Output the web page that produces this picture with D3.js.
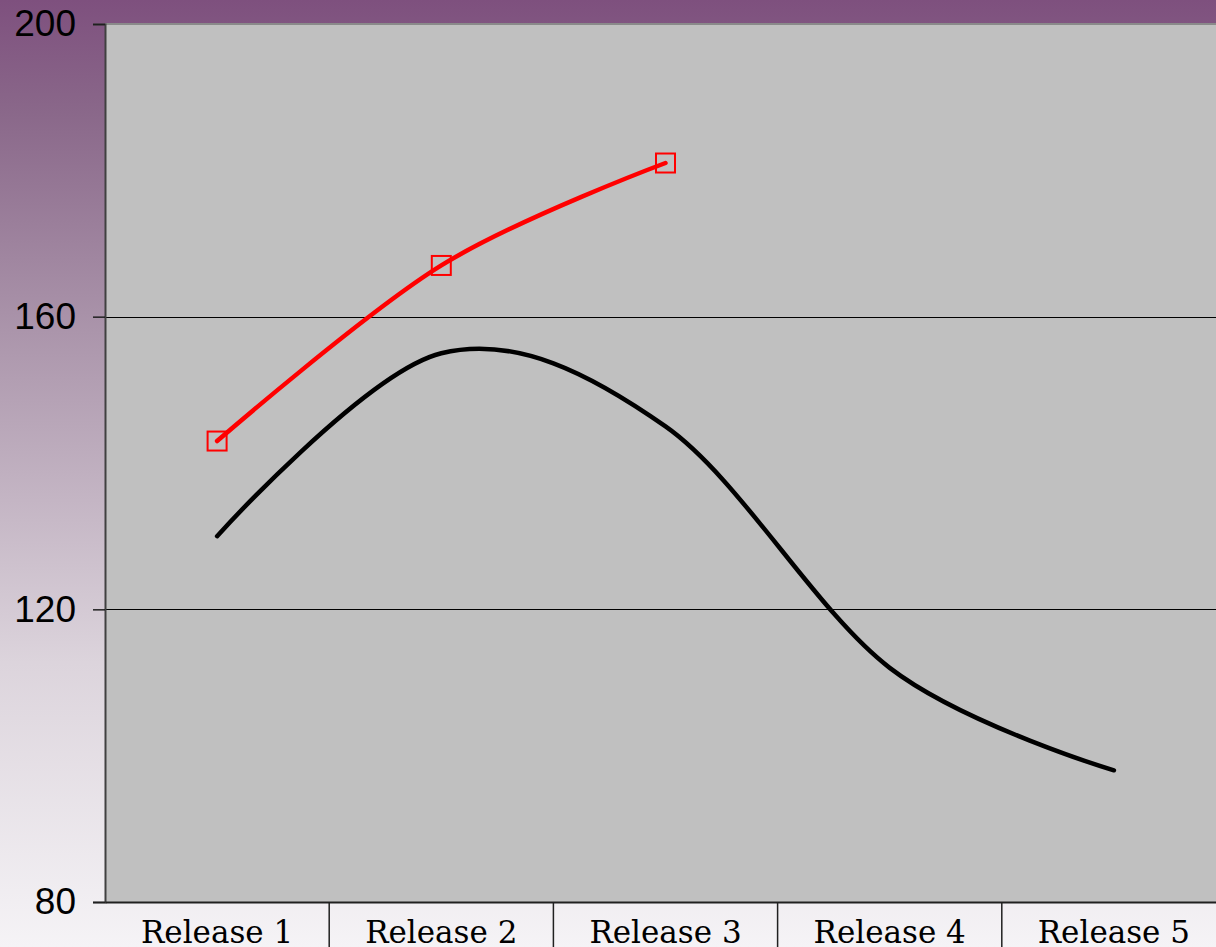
<!DOCTYPE html>
<html>
<head>
<meta charset="utf-8">
<script src="https://cdn.jsdelivr.net/npm/d3@7"></script>
<style>
  html, body { margin: 0; padding: 0; background: #ffffff; }
  svg { display: block; }
</style>
</head>
<body>
<svg id="chart" width="1216" height="947"></svg>
<script>
// Release categories along the x axis
const categories = ["Release 1", "Release 2", "Release 3", "Release 4", "Release 5"];
// Red series: only the first three releases have values
const redValues = [143, 167, 181];
// Black series: all five releases
const blackValues = [130, 155, 145, 112, 98];
// Value axis ticks
const yTicks = [80, 120, 160, 200];
const gridValues = [120, 160];

const W = 1216, H = 947;
const plot = { left: 105, top: 24, bottom: 902, catWidth: 224.2 };

const svg = d3.select("#chart");

// Page background: purple fading to near white
const defs = svg.append("defs");
const grad = defs.append("linearGradient")
  .attr("id", "bg").attr("x1", 0).attr("y1", 0).attr("x2", 0).attr("y2", 1);
[[0, "#7e507e"], [0.12, "#8a688a"], [0.35, "#ab95ab"], [0.7, "#dcd4dc"], [1, "#f5f3f6"]]
  .forEach(([o, c]) => grad.append("stop").attr("offset", o).attr("stop-color", c));
svg.append("rect").attr("width", W).attr("height", H).attr("fill", "url(#bg)");

const x = d3.scaleBand()
  .domain(categories)
  .range([plot.left, plot.left + plot.catWidth * categories.length])
  .padding(0);
const y = d3.scaleLinear().domain([80, 200]).range([plot.bottom, plot.top]);
const cx = d => x(d) + x.bandwidth() / 2;

// Plot area
svg.append("rect")
  .attr("x", plot.left).attr("y", y(200))
  .attr("width", x.range()[1] - plot.left)
  .attr("height", y(80) - y(200))
  .attr("fill", "#c0c0c0");

// Top border of plot area
svg.append("line")
  .attr("x1", plot.left).attr("x2", W)
  .attr("y1", y(200)).attr("y2", y(200))
  .attr("stroke", "#8a8a8a").attr("stroke-width", 2);

// Horizontal gridlines, snapped to whole pixels
svg.append("g").selectAll("line").data(gridValues).join("line")
  .attr("x1", plot.left).attr("x2", W)
  .attr("y1", d => Math.round(y(d)) + 0.5).attr("y2", d => Math.round(y(d)) + 0.5)
  .attr("stroke", "#000").attr("stroke-width", 1)
  .attr("shape-rendering", "crispEdges");

// Value axis
const yAxis = d3.axisLeft(y).tickValues(yTicks).tickSize(12).tickPadding(17).tickFormat(d3.format("d"));
const gy = svg.append("g").attr("transform", `translate(${plot.left},0)`).call(yAxis);
gy.select(".domain").attr("stroke", "#404040").attr("stroke-width", 2);
gy.selectAll(".tick line").attr("stroke", "#202020").attr("stroke-width", 1.5);
gy.selectAll(".tick text")
  .attr("font-family", "'Liberation Sans', Arial, sans-serif")
  .attr("font-size", 37).attr("fill", "#000");

// Category axis with separators between releases
const xAxis = d3.axisBottom(x).tickSize(0).tickPadding(0);
const gx = svg.append("g").attr("transform", `translate(0,${plot.bottom})`).call(xAxis);
gx.select(".domain").attr("stroke", "#202020").attr("stroke-width", 2);
gx.selectAll(".tick text")
  .attr("font-family", "'DejaVu Serif', serif")
  .attr("font-size", 31).attr("fill", "#000")
  .attr("dy", 0).attr("y", 41);
gx.append("g").selectAll("line").data(categories.slice(1)).join("line")
  .attr("x1", d => x(d)).attr("x2", d => x(d))
  .attr("y1", 0).attr("y2", H - plot.bottom)
  .attr("stroke", "#202020").attr("stroke-width", 1.5);

// Smoothed series lines
const line = d3.line()
  .x(d => cx(d.cat)).y(d => y(d.v))
  .curve(d3.curveCardinal.tension(0));

const blackData = blackValues.map((v, i) => ({ cat: categories[i], v }));
const redData = redValues.map((v, i) => ({ cat: categories[i], v }));

svg.append("path").datum(blackData)
  .attr("d", line).attr("fill", "none")
  .attr("stroke", "#000").attr("stroke-width", 4.5)
  .attr("stroke-linecap", "round").attr("stroke-linejoin", "round");

svg.append("path").datum(redData)
  .attr("d", line).attr("fill", "none")
  .attr("stroke", "#ff0000").attr("stroke-width", 4.5)
  .attr("stroke-linecap", "round").attr("stroke-linejoin", "round");

// Square markers on the red series
const ms = 19;
svg.append("g").selectAll("rect").data(redData).join("rect")
  .attr("x", d => cx(d.cat) - ms / 2).attr("y", d => y(d.v) - ms / 2)
  .attr("width", ms).attr("height", ms)
  .attr("fill", "none").attr("stroke", "#ff0000").attr("stroke-width", 2);
</script>
</body>
</html>
